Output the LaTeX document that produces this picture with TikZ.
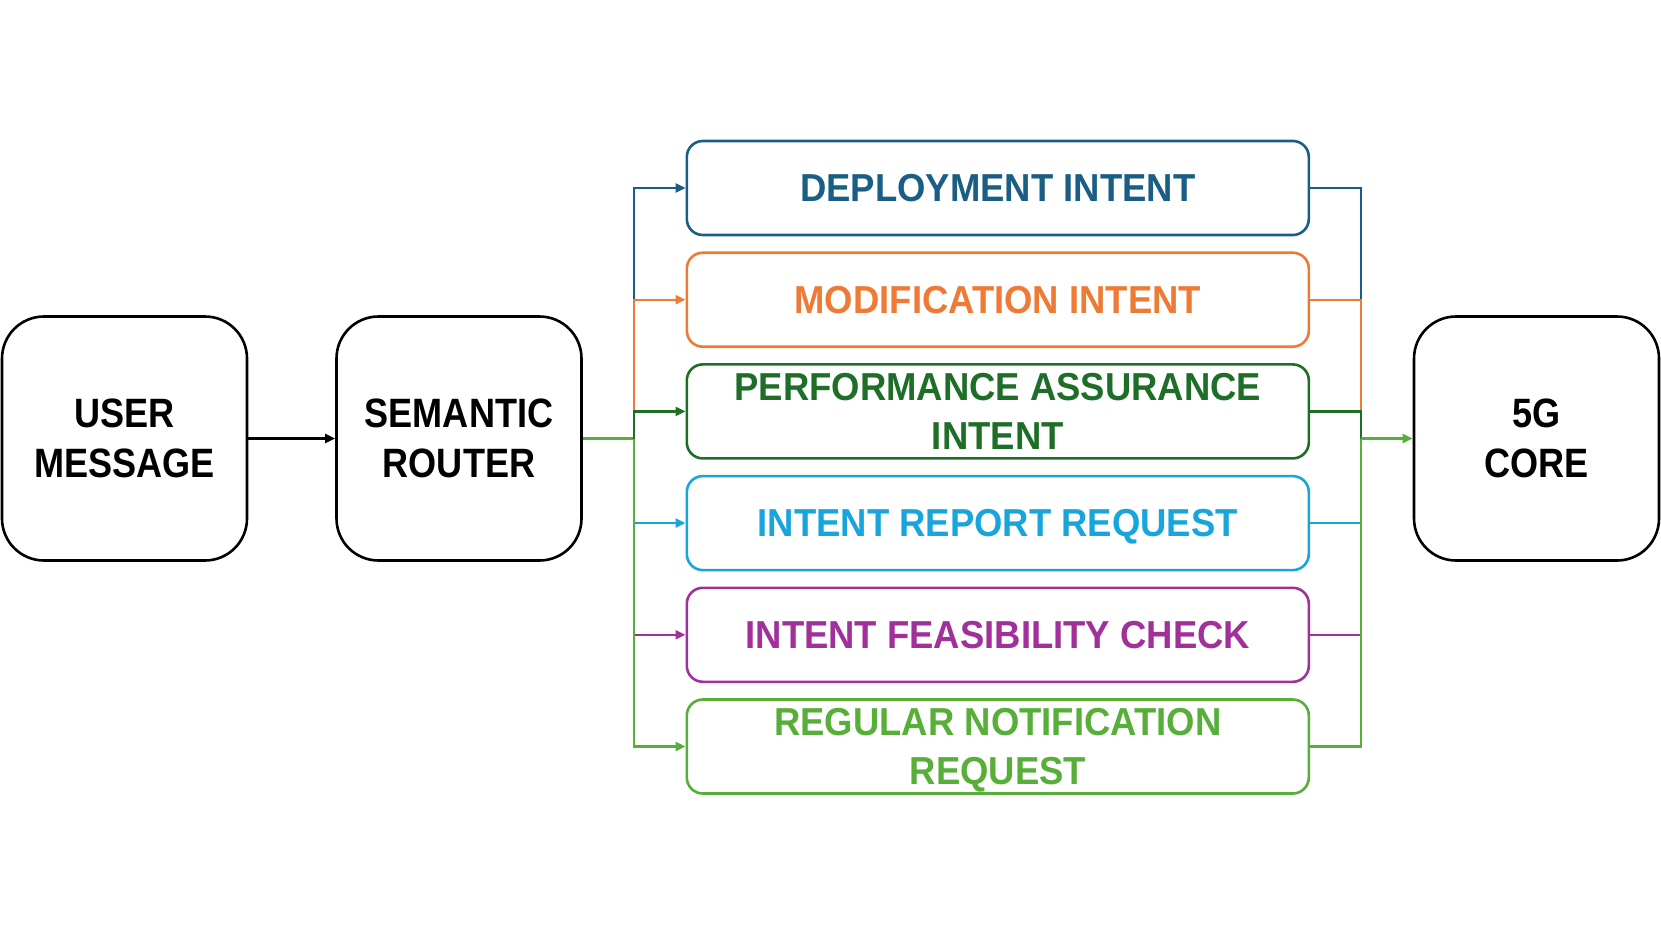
\documentclass[tikz,border=0pt]{standalone}
\usepackage{fontspec}
\setmainfont{Liberation Sans}[FakeStretch=0.88]
\newfontfamily\intfont{Liberation Sans}[FakeStretch=0.935]
\usetikzlibrary{arrows.meta}
\definecolor{cdep}{HTML}{1B5E85}
\definecolor{cmod}{HTML}{EE7A35}
\definecolor{cperf}{HTML}{1E6E28}
\definecolor{crep}{HTML}{18A5DC}
\definecolor{cfeas}{HTML}{A2309A}
\definecolor{creg}{HTML}{57AE38}
\tikzset{
  bigbox/.style={draw=black, line width=2.6pt, rounded corners=42pt, minimum width=245pt, minimum height=244pt, align=center, font=\fontsize{41}{50}\selectfont\bfseries, inner sep=0pt},
  intbox/.style={draw=#1, text=#1, line width=2.6pt, rounded corners=16pt, minimum width=622pt, minimum height=94pt, align=center, font=\intfont\fontsize{39}{49}\selectfont\bfseries, inner sep=0pt, text depth=0pt},
  conn/.style={draw=#1, line width=2.4pt},
  arr/.style={draw=#1, line width=2.4pt, -{Triangle[length=10pt,width=9pt]}},
}
\begin{document}
\begin{tikzpicture}[x=1pt,y=-1pt]
\useasboundingbox (0,0) rectangle (1661,934);
\node[bigbox] (user) at (124.5,438.5) {USER\\MESSAGE};
\node[bigbox] (router) at (459,438.5) {SEMANTIC\\ROUTER};
\node[bigbox] (core) at (1536.5,438.5) {5G\\CORE};
\node[intbox=cdep] (dep) at (997.8,188) {DEPLOYMENT INTENT};
\node[intbox=cmod] (mod) at (997.8,299.7) {MODIFICATION INTENT};
\node[intbox=cperf] (perf) at (997.8,411.4) {PERFORMANCE ASSURANCE\\INTENT};
\node[intbox=crep] (rep) at (997.8,523.1) {INTENT REPORT REQUEST};
\node[intbox=cfeas] (feas) at (997.8,634.8) {INTENT FEASIBILITY CHECK};
\node[intbox=creg] (reg) at (997.8,746.5) {REGULAR NOTIFICATION\\REQUEST};
\coordinate (Lin) at (634,438.5);
\coordinate (Lmod) at (634,299.7);
\coordinate (Lperf) at (634,411.4);
\coordinate (Rin) at (1361,438.5);
\coordinate (Rmod) at (1361,299.7);
\coordinate (Rperf) at (1361,411.4);
% left side
\draw[arr=black] (user) -- (router);
\draw[conn=creg] (router.east) -- (Lin);
\draw[arr=cdep] (Lmod) |- (dep.west);
\draw[arr=cmod] (Lperf) |- (mod.west);
\draw[arr=cperf] (Lin) |- (perf.west);
\draw[arr=crep] (Lin) |- (rep.west);
\draw[arr=cfeas] (Lin) |- (feas.west);
\draw[arr=creg] (Lin) |- (reg.west);
% right side
\draw[conn=cdep] (dep.east) -| (Rmod);
\draw[conn=cmod] (mod.east) -| (Rperf);
\draw[conn=cperf] (perf.east) -| (Rin);
\draw[conn=crep] (rep.east) -| (Rin);
\draw[conn=cfeas] (feas.east) -| (Rin);
\draw[conn=creg] (reg.east) -| (Rin);
\draw[arr=creg] (Rin) -- (core.west);
\end{tikzpicture}
\end{document}
